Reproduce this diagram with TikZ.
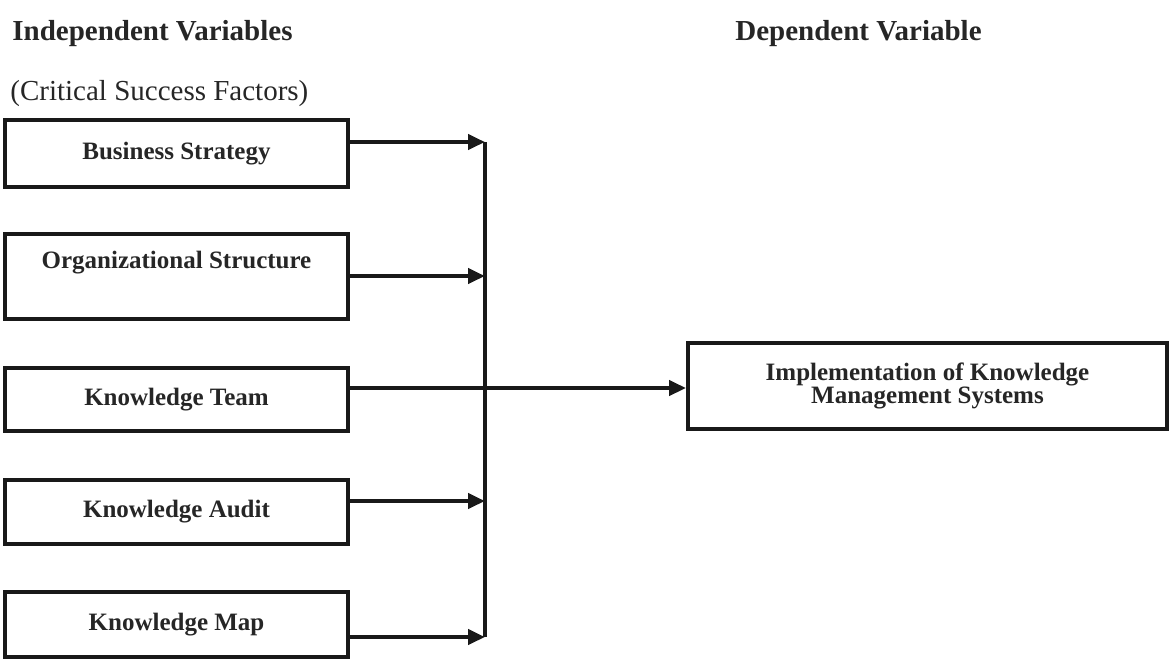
\documentclass[tikz,border=0pt]{standalone}
\usepackage{fontspec}
\setmainfont{Liberation Serif}
\usetikzlibrary{arrows.meta,positioning}

\begin{document}
\begin{tikzpicture}[x=0.5pt,y=-0.5pt,
    factor/.style={draw=black!90, line width=2.2pt, minimum width=171.25pt, inner sep=0pt,
      font=\fontsize{12.5}{15}\selectfont\bfseries, text=black!85},
    heading/.style={anchor=base west, inner sep=0pt, font=\fontsize{14.5}{17}\selectfont\bfseries, text=black!85},
    flow/.style={line width=2pt, draw=black!90, -{Triangle[length=8.5pt,width=7.5pt]}}]
    \useasboundingbox (0,0) rectangle (1172,661);
    \node[heading] (iv) at (12,40) {Independent Variables};
    \node[heading, font=\fontsize{14.5}{17}\selectfont] (csf) at (10,100) {(Critical Success Factors)};
    \node[heading] (dv) at (735,40) {Dependent Variable};

    \node[factor, minimum height=33.25pt] (bs) at (176.5,153.5) {Business Strategy};
    \node[factor, minimum height=42.25pt, text depth=17pt] (os) at (176.5,276.5) {Organizational Structure};
    \node[factor, minimum height=31.25pt] (kt) at (176.5,399.5) {Knowledge Team};
    \node[factor, minimum height=31.75pt] (ka) at (176.5,512) {Knowledge Audit};
    \node[factor, minimum height=32.25pt] (km) at (176.5,624.5) {Knowledge Map};
    \node[factor, minimum width=239.25pt, minimum height=42.75pt, align=center] (kms) at (927.5,386)
      {Implementation of Knowledge\\[-3.5pt]Management Systems};

    \foreach \y [count=\i] in {142,276,388,501,637}
      \coordinate (j\i) at (485,\y);
    \draw[line width=2pt, black!90] (j1) -- (j5);
    \foreach \b/\i in {bs/1,os/2,ka/4,km/5}
      \draw[flow] (j\i -| \b.east) -- (j\i);
    \draw[flow] (j3 -| kt.east) -- (j3 -| kms.west);
\end{tikzpicture}
\end{document}
